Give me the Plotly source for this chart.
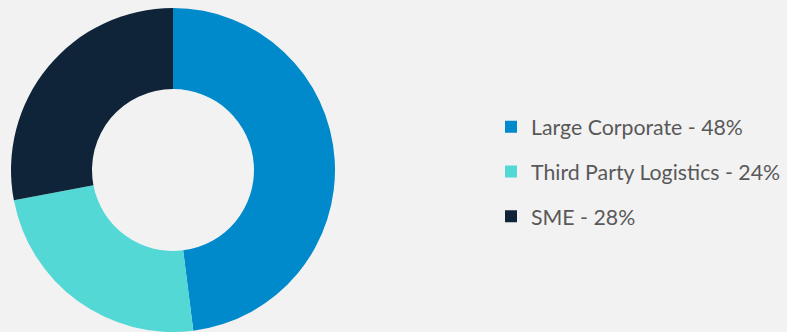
import plotly.graph_objects as go

labels = ["Large Corporate - 48%", "Third Party Logistics - 24%", "SME - 28%"]
values = [48, 24, 28]
colors = ["#0089CB", "#53D8D6", "#0F2439"]

W, H = 787, 332
fig = go.Figure()
fig.add_trace(go.Pie(
    labels=labels, values=values, hole=0.5, sort=False, direction="clockwise",
    rotation=0, textinfo="none", hoverinfo="label", showlegend=False,
    marker=dict(colors=colors, line=dict(width=0)),
    domain=dict(x=[11 / W, 335 / W], y=[0, 324 / H]),
))
# legend entries (one group per slice so the group gap sets row spacing)
for lab, col in zip(labels, colors):
    fig.add_trace(go.Scatter(
        x=[None], y=[None], mode="markers", name=lab, legendgroup=lab,
        marker=dict(symbol="square", size=12, color=col),
    ))
fig.update_layout(
    width=W, height=H, margin=dict(l=0, r=0, t=0, b=0, autoexpand=False),
    paper_bgcolor="#F2F2F2", plot_bgcolor="#F2F2F2",
    xaxis=dict(visible=False), yaxis=dict(visible=False),
    legend=dict(x=491 / W, y=(H - 172) / H, xanchor="left", yanchor="middle",
                font=dict(family="Lato", size=21.3, color="#595959"),
                traceorder="grouped", tracegroupgap=14, bgcolor="rgba(0,0,0,0)"),
)
fig.write_html("out.html")
